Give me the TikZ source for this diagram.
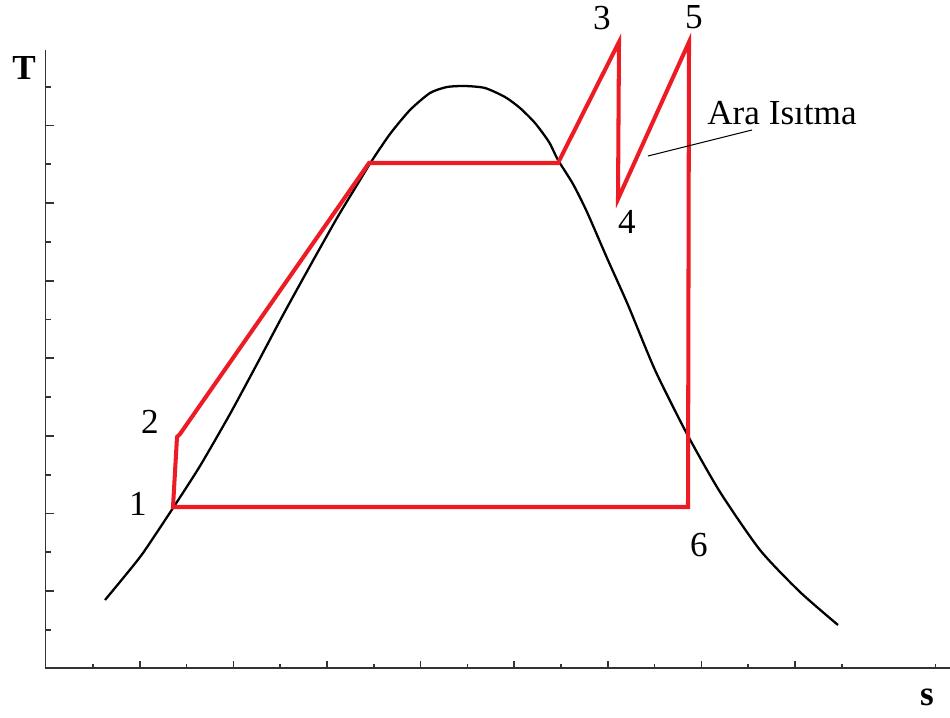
\documentclass[tikz,border=0pt]{standalone}
\usepackage{fontspec}
\setmainfont{Liberation Serif}
\definecolor{cyclered}{HTML}{ED1C24}
\definecolor{axisgray}{HTML}{333333}
\begin{document}
\begin{tikzpicture}[x=0.02cm,y=-0.02cm,
  axisline/.style={draw=axisgray,line width=1.1pt},
  majortick/.style={draw=axisgray,line width=1pt},
  minortick/.style={draw=axisgray,line width=1pt},
  dome/.style={draw=black,line width=1.3pt},
  cycle/.style={draw=cyclered,line width=2.3pt},
  leader/.style={draw=black,line width=0.6pt},
  lbl/.style={inner sep=0pt,font=\fontsize{20}{22}\selectfont},
  axlbl/.style={inner sep=0pt,font=\fontsize{20}{22}\selectfont\bfseries}]
\useasboundingbox (0,0) rectangle (950,717);
% axes
\coordinate (O) at (45.5,668);
\coordinate (Ytop) at (45.5,50);
\coordinate (Xend) at (950,668);
\draw[axisline] (Ytop) -- (O) -- (Xend);
% y ticks
\foreach \k in {0,...,14}{
  \pgfmathsetmacro{\yy}{86.7+\k*38.8}
  \pgfmathtruncatemacro{\odd}{mod(\k,2)}
  \ifnum\odd=1
    \draw[majortick] (45.5,\yy) -- (53.5,\yy);
  \else
    \draw[minortick] (45.5,\yy) -- (50.5,\yy);
  \fi
}
% x ticks
\foreach \k in {0,...,16,18}{
  \pgfmathsetmacro{\xx}{93+\k*46.8}
  \pgfmathtruncatemacro{\odd}{mod(\k,2)}
  \ifnum\odd=1
    \draw[majortick] (\xx,668) -- (\xx,661);
  \else
    \draw[minortick] (\xx,668) -- (\xx,664);
  \fi
}
% saturation dome
\draw[dome] plot[smooth,tension=0.4] coordinates {
  (105,600) (124,577) (143,553) (173,508) (200,466) (230,414) (257,364)
  (283,315) (310,266) (337,218) (357,185) (371,162) (390,134) (410,110)
  (430,93) (447,87) (465,86) (485,88) (505,97) (520,108) (535,123)
  (549,142) (558,160) (573,184) (587,212) (607,258) (628,305) (655,370)
  (687,434) (720,492) (760,550) (800,592) (838,625)};
% cycle points
\coordinate (p1) at (173,507);
\coordinate (p2a) at (177,437);
\coordinate (p2) at (180,434);
\coordinate (pf) at (369,163);
\coordinate (pg) at (558,163);
\coordinate (p3) at (619,42);
\coordinate (p4) at (618,199);
\coordinate (p5) at (689,42);
\coordinate (p6) at (688,507);
\draw[cycle] (p1) -- (p2a) -- (p2) -- (pf) -- (pg) -- (p3) -- (p4) -- (p5) -- (p6) -- cycle;
% labels
\node[lbl] (l1) at (138,504) {1};
\node[lbl] (l2) at (150,422) {2};
\node[lbl] (l3) at (602,18) {3};
\node[lbl] (l4) at (627,222) {4};
\node[lbl] (l5) at (694,17) {5};
\node[lbl] (l6) at (699,545) {6};
\node[lbl] (ara) at (782,113) {Ara Isıtma};
\coordinate (leadA) at (648,156);
\coordinate (leadB) at (752,130);
\draw[leader] (leadA) -- (leadB);
\node[axlbl] (T) at (24,68) {T};
\node[axlbl] (S) at (927,697) {s};
\end{tikzpicture}
\end{document}
